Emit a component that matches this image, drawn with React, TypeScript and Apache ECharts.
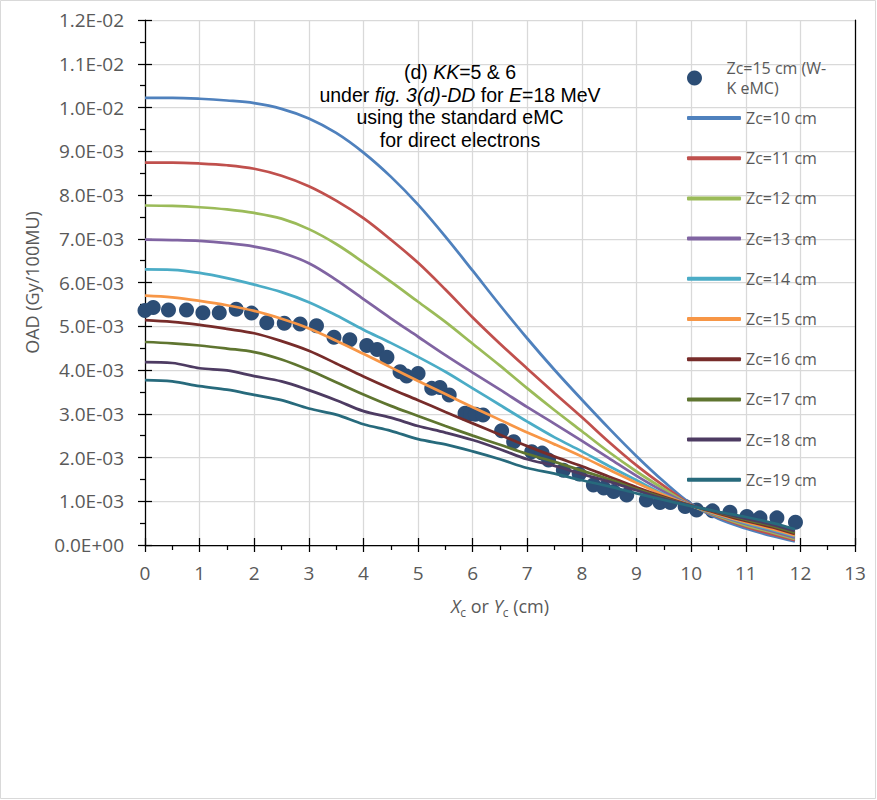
import React, { useEffect, useRef } from 'react';
import * as echarts from 'echarts';

const FONT = '"Open Sans", "Liberation Sans", sans-serif';
const TITLE_FONT = '"Liberation Sans", Arial, sans-serif';

// x positions of the computed profiles (cm)
const xs = [0, 0.5, 1, 1.5, 2, 2.5, 3, 3.5, 4, 4.5, 5, 5.5, 6, 6.5, 7, 7.5, 8, 8.5, 9, 9.5, 10, 10.5, 11, 11.5, 11.9];

// OAD values in units of 1E-3 Gy/100MU
const zc10 = [10.22, 10.22, 10.2, 10.16, 10.1, 9.97, 9.75, 9.42, 8.97, 8.42, 7.78, 7.05, 6.27, 5.48, 4.72, 4.0, 3.32, 2.66, 2.03, 1.45, 0.94, 0.6, 0.38, 0.2, 0.08];
const zc11 = [8.74, 8.74, 8.72, 8.68, 8.6, 8.44, 8.2, 7.87, 7.47, 6.98, 6.45, 5.84, 5.2, 4.6, 4.03, 3.47, 2.92, 2.35, 1.82, 1.35, 0.92, 0.64, 0.42, 0.24, 0.11];
const zc12 = [7.76, 7.75, 7.72, 7.67, 7.59, 7.46, 7.22, 6.88, 6.46, 6.02, 5.56, 5.1, 4.6, 4.1, 3.58, 3.08, 2.6, 2.12, 1.68, 1.28, 0.91, 0.66, 0.45, 0.28, 0.14];
const zc13 = [6.98, 6.97, 6.95, 6.9, 6.82, 6.68, 6.44, 6.06, 5.62, 5.18, 4.76, 4.34, 3.94, 3.55, 3.15, 2.77, 2.38, 1.98, 1.58, 1.22, 0.91, 0.68, 0.48, 0.31, 0.17];
const zc14 = [6.3, 6.29, 6.22, 6.1, 5.95, 5.78, 5.55, 5.25, 4.92, 4.62, 4.3, 3.96, 3.58, 3.2, 2.82, 2.46, 2.14, 1.8, 1.48, 1.16, 0.9, 0.69, 0.5, 0.34, 0.2];
const zc15 = [5.7, 5.66, 5.58, 5.48, 5.35, 5.17, 4.95, 4.67, 4.37, 4.06, 3.75, 3.45, 3.15, 2.86, 2.57, 2.3, 2.02, 1.72, 1.42, 1.14, 0.9, 0.7, 0.52, 0.36, 0.22];
const zc16 = [5.14, 5.1, 5.03, 4.94, 4.84, 4.66, 4.44, 4.15, 3.85, 3.57, 3.31, 3.04, 2.78, 2.52, 2.26, 2.02, 1.8, 1.56, 1.32, 1.1, 0.9, 0.72, 0.55, 0.4, 0.25];
const zc17 = [4.64, 4.61, 4.56, 4.49, 4.41, 4.24, 4.0, 3.72, 3.44, 3.18, 2.95, 2.72, 2.5, 2.29, 2.08, 1.9, 1.7, 1.5, 1.28, 1.08, 0.9, 0.74, 0.58, 0.43, 0.28];
const zc18 = [4.18, 4.16, 4.04, 3.99, 3.86, 3.74, 3.54, 3.31, 3.06, 2.91, 2.72, 2.57, 2.4, 2.19, 1.96, 1.81, 1.62, 1.45, 1.25, 1.06, 0.9, 0.75, 0.6, 0.46, 0.32];
const zc19 = [3.77, 3.74, 3.63, 3.55, 3.43, 3.31, 3.12, 2.98, 2.76, 2.61, 2.42, 2.3, 2.14, 1.96, 1.76, 1.63, 1.48, 1.34, 1.18, 1.03, 0.89, 0.76, 0.64, 0.5, 0.36];

// W-K eMC points for Zc = 15 cm
const wkX = [0, 0.15, 0.43, 0.76, 1.06, 1.36, 1.67, 1.95, 2.23, 2.55, 2.84, 3.14, 3.46, 3.75, 4.06, 4.25, 4.43, 4.67, 4.79, 5.0, 5.25, 5.4, 5.57, 5.86, 5.96, 6.05, 6.19, 6.53, 6.75, 7.08, 7.27, 7.39, 7.66, 7.95, 8.21, 8.4, 8.58, 8.82, 9.18, 9.43, 9.62, 9.89, 10.1, 10.39, 10.71, 11.02, 11.26, 11.57, 11.91];
const wkY = [5.36, 5.43, 5.37, 5.37, 5.31, 5.31, 5.39, 5.3, 5.08, 5.07, 5.05, 5.01, 4.75, 4.69, 4.56, 4.47, 4.29, 3.96, 3.86, 3.92, 3.58, 3.6, 3.43, 3.01, 3.0, 2.99, 2.97, 2.61, 2.36, 2.13, 2.1, 1.94, 1.71, 1.62, 1.37, 1.3, 1.22, 1.14, 1.03, 0.97, 0.97, 0.88, 0.8, 0.78, 0.75, 0.65, 0.62, 0.62, 0.52];

const lineNames = ['Zc=10 cm', 'Zc=11 cm', 'Zc=12 cm', 'Zc=13 cm', 'Zc=14 cm', 'Zc=15 cm', 'Zc=16 cm', 'Zc=17 cm', 'Zc=18 cm', 'Zc=19 cm'];
const lineValues = [zc10, zc11, zc12, zc13, zc14, zc15, zc16, zc17, zc18, zc19];
const lineColors = ['#4F81BD', '#C0504D', '#9BBB59', '#8064A2', '#4BACC6', '#F79646', '#772C2A', '#5F7530', '#4D3B62', '#276A7C'];
const scatterName = 'Zc=15 cm (W-K eMC)';

const titleLines = [
  '(d) {i|KK}=5 & 6',
  'under {i|fig. 3(d)-DD} for {i|E}=18 MeV',
  'using the standard eMC',
  'for direct electrons',
];

const yTicks = { min: 0, max: 0.012, interval: 0.001 };
const xTicks = { min: 0, max: 13, interval: 1 };

function sci(v: number): string {
  if (Math.abs(v) < 1e-12) return '0.0E+00';
  const e = Math.floor(Math.log10(Math.abs(v)) + 1e-9);
  const m = v / Math.pow(10, e);
  return m.toFixed(1) + 'E' + (e < 0 ? '-' : '+') + String(Math.abs(e)).padStart(2, '0');
}

export default function App() {
  const ref = useRef<HTMLDivElement>(null);
  useEffect(() => {
    document.body.style.margin = '0';
    if (!ref.current) return;
    const chart = echarts.init(ref.current, undefined, { renderer: 'svg' });
    const labelColor = '#595959';
    const series: any[] = [
      {
        name: scatterName,
        type: 'scatter',
        data: wkX.map((x, i) => [x, wkY[i] * 1e-3]),
        symbol: 'circle',
        symbolSize: 15,
        itemStyle: { color: '#2C4D75', opacity: 1 },
        z: 2,
      },
      ...lineNames.map((n, k) => ({
        name: n,
        type: 'line',
        data: xs.map((x, i) => [x, lineValues[k][i] * 1e-3]),
        symbol: 'none',
        smooth: 0.35,
        lineStyle: { color: lineColors[k], width: 2.75 },
        itemStyle: { color: lineColors[k] },
        z: 3,
      })),
    ];
    const option: any = {
      animation: false,
      backgroundColor: '#fff',
      grid: { left: 145, right: 22, top: 20, bottom: 255, containLabel: false },
      xAxis: [
        {
          type: 'value', ...xTicks, position: 'bottom',
          axisLine: { show: true, onZero: false, lineStyle: { color: '#000', width: 1.25 } },
          axisTick: { show: true, length: 7, lineStyle: { color: '#000', width: 1.25 } },
          minorTick: { show: true, splitNumber: 2, length: 5, lineStyle: { color: '#000', width: 1.25 } },
          splitLine: { show: true, lineStyle: { color: '#D9D9D9', width: 1.25 } },
          axisLabel: { color: labelColor, fontSize: 19, fontFamily: FONT, margin: 18 },
          name: '{i|X}{s|c}{n| or }{i|Y}{s|c}{n| (cm)}',
          nameLocation: 'middle',
          nameGap: 49,
          nameTextStyle: {
            color: labelColor, fontSize: 18, fontFamily: FONT,
            rich: {
              i: { fontStyle: 'italic', fontSize: 18, fontFamily: FONT, color: labelColor, lineHeight: 24 },
              n: { fontSize: 18, fontFamily: FONT, color: labelColor, lineHeight: 24 },
              s: { fontSize: 12, fontFamily: FONT, color: labelColor, lineHeight: 13, verticalAlign: 'bottom' },
            },
          },
        },
        {
          type: 'value', ...xTicks, position: 'bottom',
          axisLine: { show: false, onZero: false },
          axisTick: { show: true, inside: true, length: 7, lineStyle: { color: '#000', width: 1.25 } },
          splitLine: { show: false },
          axisLabel: { show: false },
        },
      ],
      yAxis: [
        {
          type: 'value', ...yTicks, position: 'left',
          axisLine: { show: true, onZero: false, lineStyle: { color: '#000', width: 1.25 } },
          axisTick: { show: true, length: 7, lineStyle: { color: '#000', width: 1.25 } },
          minorTick: { show: true, splitNumber: 2, length: 5, lineStyle: { color: '#000', width: 1.25 } },
          splitLine: { show: true, lineStyle: { color: '#D9D9D9', width: 1.25 } },
          axisLabel: { color: labelColor, fontSize: 19, fontFamily: FONT, margin: 21, formatter: (v: number) => sci(v) },
          name: 'OAD (Gy/100MU)',
          nameLocation: 'middle',
          nameGap: 104,
          nameTextStyle: { color: labelColor, fontSize: 18, fontFamily: FONT },
        },
        {
          type: 'value', ...yTicks, position: 'left',
          axisLine: { show: false, onZero: false },
          axisTick: { show: true, inside: true, length: 7, lineStyle: { color: '#000', width: 1.25 } },
          splitLine: { show: false },
          axisLabel: { show: false },
        },
        {
          type: 'value', ...yTicks, position: 'right',
          axisLine: { show: true, onZero: false, lineStyle: { color: '#000', width: 1.25 } },
          axisTick: { show: false },
          splitLine: { show: false },
          axisLabel: { show: false },
        },
      ],
      legend: [
        {
          data: [scatterName],
          orient: 'vertical',
          left: 687,
          top: 48,
          padding: 0,
          selectedMode: false,
          icon: 'circle',
          itemWidth: 54,
          itemHeight: 15,
          formatter: () => 'Zc=15 cm (W-\nK eMC)',
          textStyle: { color: labelColor, fontSize: 16, fontFamily: FONT, lineHeight: 20, padding: [20, 0, 0, 0] },
        },
        {
          data: lineNames,
          orient: 'vertical',
          left: 687,
          top: 108,
          padding: 0,
          selectedMode: false,
          icon: 'roundRect',
          itemWidth: 54,
          itemHeight: 4,
          itemGap: 20.2,
          textStyle: { color: labelColor, fontSize: 16, fontFamily: FONT, lineHeight: 20 },
        },
      ],
      graphic: [
        {
          type: 'rect',
          shape: { x: 0.5, y: 0.5, width: 875, height: 798 },
          style: { fill: 'none', stroke: '#D9D9D9', lineWidth: 1 },
          silent: true,
          z: -10,
        },
        ...titleLines.map((t, i) => ({
          type: 'text',
          x: 460,
          y: 72 + i * 22.7,
          style: {
            text: t,
            align: 'center',
            verticalAlign: 'middle',
            fontSize: 19.5,
            fontFamily: TITLE_FONT,
            fill: '#000',
            rich: {
              i: { fontStyle: 'italic', fontSize: 19.5, fontFamily: TITLE_FONT, fill: '#000' },
            },
          },
          z: 10,
        })),
      ],
      series,
    };
    chart.setOption(option);
    return () => chart.dispose();
  }, []);
  return <div ref={ref} style={{ width: 877, height: 800 }} />;
}
